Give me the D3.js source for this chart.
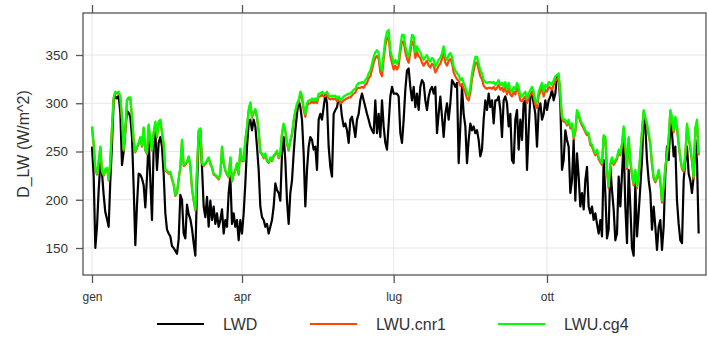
<!DOCTYPE html>
<html><head><meta charset="utf-8">
<script src="https://cdn.jsdelivr.net/npm/d3@7"></script>
<style>
body{margin:0;background:#fff}
svg{display:block;font-family:"Liberation Sans",Arial,sans-serif}
</style>
</head><body>
<svg id="chart" width="707" height="347"></svg>
<script>
// Daily long-wave radiation, one value per day of the year (W/m^2)
const year = 2015;
const tickMonths = [0, 3, 6, 9];
const tickLabels = ["gen", "apr", "lug", "ott"];
const yTicks = [150, 200, 250, 300, 350];
const seriesNames = ["LWD", "LWU.cnr1", "LWU.cg4"];
const seriesColors = ["#000000", "#FF4500", "#00FF00"];

const LWD = [
255,225,150,172,210,238,228,205,187,180,
172,220,258,303,307,305,308,290,236,250,
272,292,290,286,265,213,153,195,227,226,
222,215,192,224,262,220,179,255,270,231,
259,265,255,227,186,169,165,162,152,150,
147,144,159,205,200,165,160,195,185,180,
170,155,142,213,265,272,234,193,182,203,
172,199,179,193,175,186,172,179,190,165,
179,172,207,224,175,186,172,179,158,179,
165,186,217,255,279,283,272,283,276,255,
231,193,182,179,172,175,165,172,179,193,
217,210,207,199,248,265,241,199,175,207,
220,248,272,289,303,296,283,248,193,231,
255,265,262,252,255,231,283,289,283,296,
309,300,255,234,224,289,293,296,305,302,
286,276,279,272,259,283,286,276,265,283,
289,303,310,303,296,289,283,276,272,269,
303,269,289,265,303,276,259,252,279,307,
317,310,310,310,307,269,259,283,314,334,
336,317,303,317,296,310,293,317,324,321,
303,293,307,314,317,310,317,269,289,307,
286,265,289,300,283,300,324,321,317,321,
238,276,317,289,276,238,262,279,272,276,
269,272,262,245,252,283,303,293,310,296,
303,279,303,303,307,293,265,303,307,300,
276,289,241,238,283,293,252,283,262,300,
303,231,272,307,310,300,289,255,293,300,
283,289,303,293,303,307,314,303,310,329,
328,300,231,241,272,262,255,207,220,262,
199,248,224,193,207,190,220,234,193,186,
193,179,186,175,165,179,162,241,207,160,
169,234,210,190,158,165,224,193,227,259,
193,155,231,193,150,142,217,162,186,214,
241,286,276,241,220,207,169,193,172,148,
172,179,148,172,227,255,241,279,269,245,
255,199,175,158,155,220,241,255,227,220,
207,224,262,240,165
];

const LWU_cnr1 = [
275,257,232,226,239,254,229,225,231,232,
220,239,275,305,311,310,311,306,284,251,
271,303,305,305,285,261,249,254,258,264,
255,274,251,247,277,261,251,269,280,265,
280,282,269,257,230,229,227,228,221,215,
204,207,221,233,261,235,236,239,244,235,
211,199,189,230,271,273,237,235,237,240,
243,237,233,226,225,223,221,226,254,237,
230,226,223,243,219,226,230,237,226,252,
240,240,261,275,292,300,285,290,293,285,
271,249,247,243,247,240,238,243,240,245,
247,250,243,247,268,278,271,258,251,261,
267,281,291,298,301,309,305,293,286,297,
300,300,302,300,302,300,307,307,309,307,
307,309,305,304,305,304,305,302,304,300,
301,303,304,305,306,306,308,310,311,315,
316,316,317,316,319,321,326,328,335,342,
347,349,346,332,328,346,360,367,369,349,
342,335,339,335,339,353,364,364,353,346,
342,353,364,362,347,353,349,347,342,339,
342,344,339,337,341,339,332,335,339,341,
346,353,342,339,344,346,342,332,328,325,
323,318,320,315,311,305,303,311,325,334,
342,342,335,328,325,318,316,315,316,316,
315,317,314,316,319,314,316,312,317,309,
316,309,307,312,309,316,312,303,302,305,
307,300,305,309,312,307,298,295,307,312,
316,307,314,312,317,316,314,319,323,325,
328,308,284,281,281,277,281,274,277,263,
270,291,287,281,277,274,270,267,267,257,
255,250,246,250,242,239,236,265,263,229,
212,236,242,236,239,242,250,246,257,274,
253,232,263,239,225,215,229,212,225,246,
270,291,284,277,267,257,236,222,218,222,
229,218,197,212,232,246,263,291,284,270,
284,274,257,242,232,229,246,277,263,253,
239,222,273,281,246
];

const LWU_cg4 = [
276,258,233,227,240,255,230,226,232,233,
221,240,276,306,312,311,312,307,285,252,
272,304,306,306,286,262,250,255,259,265,
256,275,252,248,278,262,252,270,281,266,
281,283,270,258,231,230,228,229,222,216,
205,208,222,234,262,236,237,240,245,236,
212,200,190,231,272,274,238,236,238,241,
244,238,234,227,226,224,222,227,255,238,
231,227,224,244,220,227,231,238,227,253,
241,241,262,276,293,301,286,291,294,286,
272,250,248,244,248,241,239,244,241,246,
248,251,244,248,269,279,272,259,252,262,
269,283,293,300,303,312,308,296,289,300,
303,303,305,303,305,303,310,310,312,310,
310,312,308,307,308,307,308,305,307,303,
305,307,308,309,310,310,312,314,315,319,
321,321,322,321,324,326,331,334,341,348,
353,355,352,338,334,352,366,374,376,355,
348,341,345,341,345,359,371,371,359,352,
348,359,371,369,353,359,355,353,348,345,
348,350,345,343,347,345,338,341,345,347,
352,359,348,345,350,352,348,338,334,331,
329,324,326,321,317,310,308,317,331,340,
348,348,341,334,331,324,322,321,322,322,
321,322,319,321,324,319,321,317,322,314,
321,314,312,317,314,321,317,308,307,310,
312,305,310,314,317,312,303,300,312,317,
321,312,319,317,322,321,319,324,328,329,
331,310,286,283,283,279,283,276,279,265,
272,293,289,283,279,276,272,269,269,259,
257,252,248,252,244,241,238,267,265,231,
214,238,244,238,241,244,252,248,259,276,
255,234,265,241,227,217,231,214,227,248,
272,293,286,279,269,259,238,224,220,224,
231,220,199,214,234,248,265,293,286,272,
286,276,259,244,234,231,248,279,265,255,
241,224,275,283,248
];

const seriesValues = [LWD, LWU_cnr1, LWU_cg4];

const panel = {left: 83, right: 706, top: 13, bottom: 275};
const svg = d3.select("#chart");
const textColor = "#333333";
const frameColor = "#555555";
const gridColor = "#e6e6e6";

const dayDate = d => new Date(Date.UTC(year, 0, 1 + d));
const tickDates = tickMonths.map(m => new Date(Date.UTC(year, m, 1)));

const x = d3.scaleUtc()
  .domain([new Date(Date.UTC(year, 0, 1)), new Date(Date.UTC(year, 9, 1))])
  .range([92, 547]);
const y = d3.scaleLinear().domain([150, 350]).range([248, 55]);

svg.append("rect").attr("width", 707).attr("height", 347).attr("fill", "#fff");

// grid
const grid = svg.append("g");
grid.selectAll("line.h").data(yTicks).join("line")
  .attr("x1", panel.left).attr("x2", panel.right)
  .attr("y1", d => y(d)).attr("y2", d => y(d))
  .attr("stroke", gridColor).attr("stroke-width", 1);
grid.selectAll("line.v").data(tickDates).join("line")
  .attr("y1", panel.top).attr("y2", panel.bottom)
  .attr("x1", d => x(d)).attr("x2", d => x(d))
  .attr("stroke", gridColor).attr("stroke-width", 1);

// series
svg.append("clipPath").attr("id", "clip").append("rect")
  .attr("x", panel.left).attr("y", panel.top)
  .attr("width", panel.right - panel.left).attr("height", panel.bottom - panel.top);

const line = d3.line().x((d, i) => x(dayDate(i))).y(d => y(d));
const lines = svg.append("g").attr("clip-path", "url(#clip)");
seriesValues.forEach((vals, k) => {
  lines.append("path").datum(vals)
    .attr("d", line)
    .attr("fill", "none")
    .attr("stroke", seriesColors[k])
    .attr("stroke-width", 2.2)
    .attr("stroke-linejoin", "round");
});

// frame
svg.append("rect")
  .attr("x", panel.left).attr("y", panel.top)
  .attr("width", panel.right - panel.left).attr("height", panel.bottom - panel.top)
  .attr("fill", "none").attr("stroke", frameColor).attr("stroke-width", 1.3);

// axes
const styleAxis = g => {
  g.select(".domain").remove();
  g.selectAll(".tick line").attr("stroke", frameColor).attr("stroke-width", 1.3);
  g.selectAll(".tick text").attr("fill", textColor).attr("font-size", 13.5)
    .attr("font-family", "Liberation Sans, Arial, sans-serif");
};

svg.append("g").attr("transform", `translate(${panel.left},0)`)
  .call(d3.axisLeft(y).tickValues(yTicks).tickSize(7).tickPadding(8))
  .call(styleAxis);

svg.append("g").attr("transform", `translate(0,${panel.bottom})`)
  .call(d3.axisBottom(x).tickValues(tickDates).tickSize(8).tickPadding(9)
    .tickFormat((d, i) => tickLabels[i]))
  .call(styleAxis)
  .selectAll(".tick text").attr("font-size", 12);

svg.append("g").attr("transform", `translate(0,${panel.top})`)
  .call(d3.axisTop(x).tickValues(tickDates).tickSize(8).tickFormat(""))
  .call(styleAxis);

// y title
svg.append("text")
  .attr("transform", `translate(29,${(panel.top + panel.bottom) / 2}) rotate(-90)`)
  .attr("text-anchor", "middle")
  .attr("fill", textColor)
  .attr("font-size", 16)
  .text("D_LW (W/m^2)");

// legend
const legendX = [157, 310, 498];
const legendY = 324;
const legend = svg.append("g");
seriesNames.forEach((name, k) => {
  legend.append("line")
    .attr("x1", legendX[k]).attr("x2", legendX[k] + 47)
    .attr("y1", legendY).attr("y2", legendY)
    .attr("stroke", seriesColors[k]).attr("stroke-width", 2);
  legend.append("text")
    .attr("x", legendX[k] + 66).attr("y", legendY)
    .attr("dy", "0.35em")
    .attr("fill", textColor)
    .attr("font-size", 16)
    .text(name);
});
</script>
</body></html>
